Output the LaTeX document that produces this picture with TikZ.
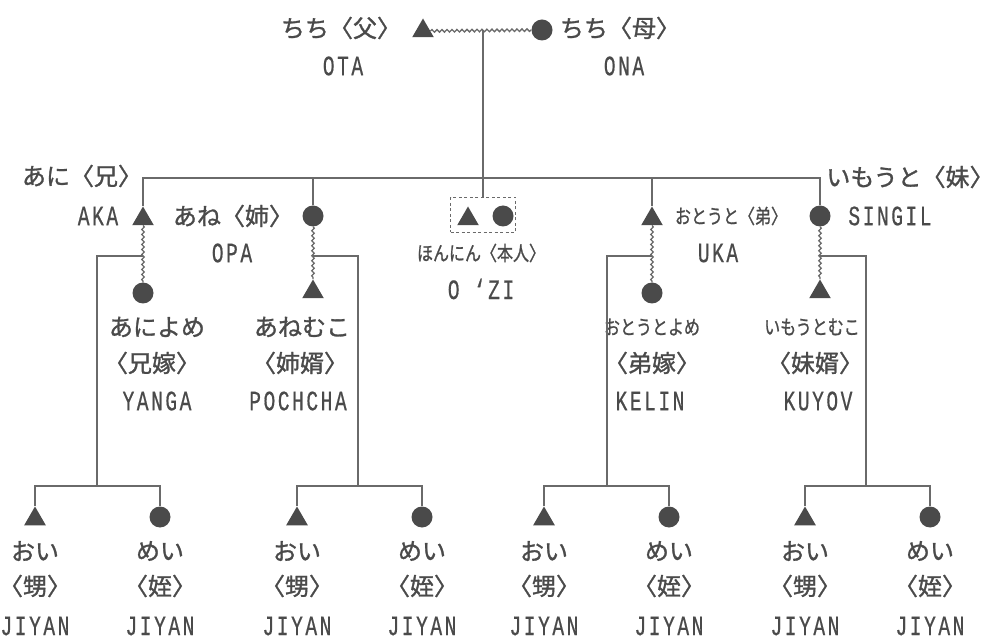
\documentclass[tikz,border=0pt]{standalone}
\usepackage{fontspec}
\usetikzlibrary{shapes.geometric,decorations.pathmorphing}
\newfontfamily\jpfont[FakeBold=1.2]{Noto Sans CJK JP}
\newfontfamily\jpnarrow[FakeStretch=0.8,FakeBold=1]{Noto Sans CJK JP}
\newfontfamily\latfont[FakeStretch=0.7,LetterSpace=9,FakeBold=0.5]{Liberation Mono}
\definecolor{ink}{HTML}{4A4A4A}
\definecolor{rule}{HTML}{6A6A6A}
\begin{document}
\begin{tikzpicture}[x=1pt, y=-1pt,
  male/.style={regular polygon, regular polygon sides=3, fill=ink, inner sep=0pt, minimum size=25pt},
  female/.style={circle, fill=ink, inner sep=0pt, minimum size=21pt},
  kin/.style={draw=rule, line width=1.8pt},
  wed/.style={draw=rule, line width=1.3pt, decorate, decoration={snake, amplitude=1.3pt, segment length=5pt}},
  jp/.style={text=ink, inner sep=0pt, font=\jpfont\fontsize{24}{26}\selectfont},
  jps/.style={text=ink, inner sep=0pt, font=\jpnarrow\fontsize{20}{22}\selectfont},
  lat/.style={text=ink, inner sep=0pt, font=\latfont\fontsize{28}{30}\selectfont}]
\useasboundingbox (0,0) rectangle (999,644);
\node[male] (ota) at (423,31) {};
\node[female] (ona) at (542,30) {};
\coordinate (par) at (483,30);
\draw[wed] (ota) -- (ona);
\node[jp] (ota-a) at (341,28) {ちち〈父〉};
\node[lat] (ota-b) at (343,66) {OTA};
\node[jp] (ona-a) at (620,28) {ちち〈母〉};
\node[lat] (ona-b) at (624,66) {ONA};
\node[draw=rule, dashed, dash pattern=on 3pt off 2.5pt, line width=1.2pt, minimum width=65pt, minimum height=35pt] (ego) at (483,215) {};
\node[male] (egom) at (468,219) {};
\node[female] (egof) at (503,216) {};
\draw[kin] (par) -- (ego);
\coordinate (sib) at (483,178);
\node[male] (aka) at (143,219) {};
\node[female] (opa) at (313,216) {};
\node[male] (uka) at (652,219) {};
\node[female] (singil) at (820,216) {};
\draw[kin] (aka) -- (aka |- sib) -- (singil |- sib) -- (singil);
\draw[kin] (opa) -- (opa |- sib);
\draw[kin] (uka) -- (uka |- sib);
\node[jp] (aka-a) at (82,176) {あに〈兄〉};
\node[lat] (aka-b) at (98,216) {AKA};
\node[jp] (opa-a) at (233,216) {あね〈姉〉};
\node[lat] (opa-b) at (232,253) {OPA};
\node[jps] (ego-a) at (481,253) {ほんにん〈本人〉};
\node[lat] (ego-b) at (481,289) {O ‘ZI};
\node[jps] (uka-a) at (731,216) {おとうと〈弟〉};
\node[lat] (uka-b) at (718,253) {UKA};
\node[jp] (singil-a) at (910,177) {いもうと〈妹〉};
\node[lat] (singil-b) at (890,216) {SINGIL};
\node[female] (yanga) at (143,293) {};
\node[male] (pochcha) at (313,292) {};
\node[female] (kelin) at (652,293) {};
\node[male] (kuyov) at (820,292) {};
\draw[wed] (aka) -- (yanga);
\draw[wed] (opa) -- (pochcha);
\draw[wed] (uka) -- (kelin);
\draw[wed] (singil) -- (kuyov);
\node[jp] (yanga-a) at (157,327) {あによめ};
\node[jp] (yanga-c) at (152,363) {〈兄嫁〉};
\node[lat] (yanga-b) at (157,401) {YANGA};
\node[jp] (pochcha-a) at (302,327) {あねむこ};
\node[jp] (pochcha-c) at (300,363) {〈姉婿〉};
\node[lat] (pochcha-b) at (298,401) {POCHCHA};
\node[jps] (kelin-a) at (652,327) {おとうとよめ};
\node[jp] (kelin-c) at (652,363) {〈弟嫁〉};
\node[lat] (kelin-b) at (650,401) {KELIN};
\node[jps] (kuyov-a) at (812,327) {いもうとむこ};
\node[jp] (kuyov-c) at (815,363) {〈妹婿〉};
\node[lat] (kuyov-b) at (818,401) {KUYOV};
\foreach \k/\xm/\xd/\xa/\xb in {1/143/97/35/160, 2/313/358/297/422, 3/652/607/544/669, 4/820/866/805/930}{
  \node[male] (oi\k) at (\xa,519) {};
  \node[female] (mei\k) at (\xb,517) {};
  \coordinate (m\k) at (\xm,256);
  \coordinate (d\k) at (\xd,486);
  \draw[kin] (m\k) -| (d\k);
  \draw[kin] (oi\k) |- (d\k) -| (mei\k);
  \node[jp] (oi\k-a) at (\xa,551) {おい};
  \node[jp] (oi\k-c) at (\xa,586) {〈甥〉};
  \node[lat] (oi\k-b) at (\xa,626) {JIYAN};
  \node[jp] (mei\k-a) at (\xb,551) {めい};
  \node[jp] (mei\k-c) at (\xb,586) {〈姪〉};
  \node[lat] (mei\k-b) at (\xb,626) {JIYAN};
}
\end{tikzpicture}
\end{document}
